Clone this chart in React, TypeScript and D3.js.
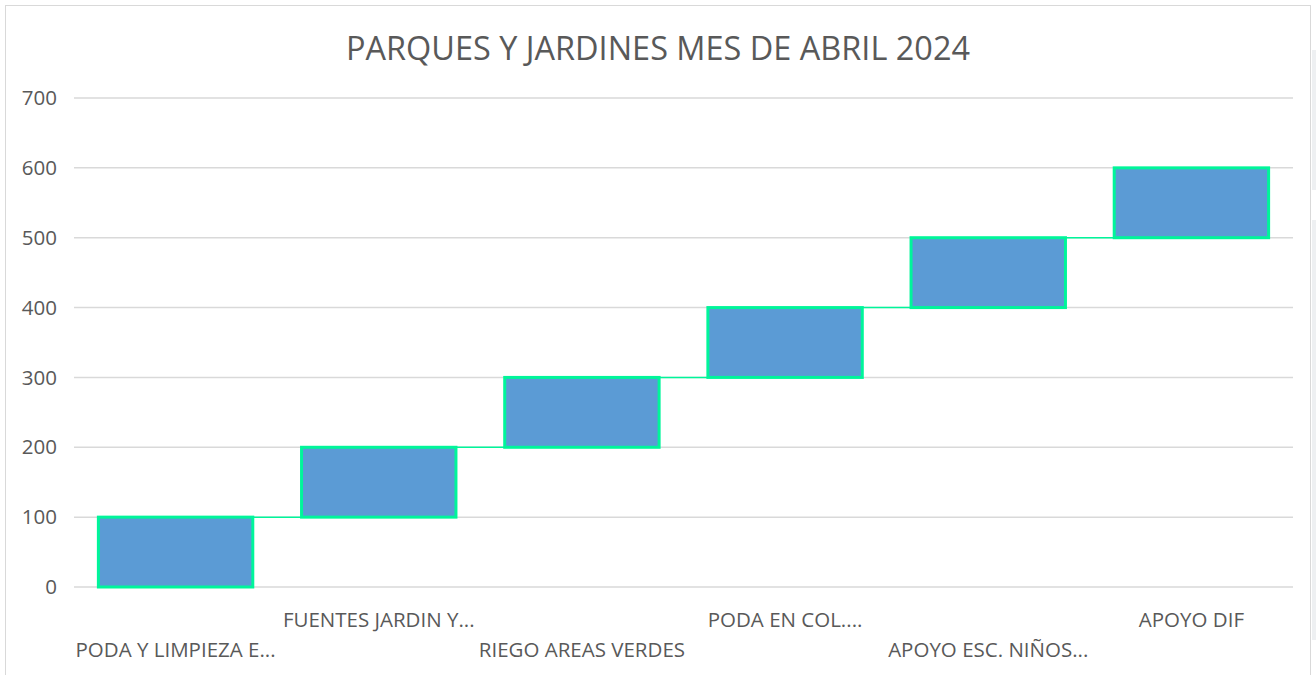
import React from "react";
import * as d3 from "d3";

const categories = [
  "PODA Y LIMPIEZA E...",
  "FUENTES JARDIN Y...",
  "RIEGO AREAS VERDES",
  "PODA EN COL....",
  "APOYO ESC. NIÑOS...",
  "APOYO DIF",
];
const values = [100, 100, 100, 100, 100, 100];
const yTicks = [0, 100, 200, 300, 400, 500, 600, 700];
const title = "PARQUES Y JARDINES MES DE ABRIL 2024";

const W = 1316;
const H = 675;
const FONT = "'Open Sans', 'Liberation Sans', sans-serif";

export default function App() {
  const left = 74, right = 1293, top = 98, bottom = 587;
  const x = d3.scaleBand<string>().domain(categories).range([left, right]).paddingInner(0.24).paddingOuter(0.12);
  const y = d3.scaleLinear().domain([0, 700]).range([bottom, top]);

  let cum = 0;
  const bars = values.map((v, i) => {
    const start = cum;
    cum += v;
    return { cat: categories[i], start, end: cum };
  });

  return (
    <svg width={W} height={H} style={{ position: "absolute", left: 0, top: 0, display: "block" }} fontFamily={FONT}>
      <rect x={0} y={0} width={W} height={H} fill="#fff" />
      <rect x={5.5} y={5.5} width={1305} height={680} fill="#fff" stroke="#d9d9d9" strokeWidth={1} />
      <rect x={1312} y={50} width={4} height={140} fill="#eef0f2" />
      <rect x={1312} y={220} width={4} height={420} fill="#eef0f2" />
      <text x={658} y={60} textAnchor="middle" fontSize={32} fill="#595959" textLength={624} lengthAdjust="spacingAndGlyphs">{title}</text>
      {yTicks.map((t) => (
        <g key={t}>
          <line x1={left} x2={right} y1={y(t)} y2={y(t)} stroke="#d9d9d9" strokeWidth={1.5} />
          <text x={57} y={y(t)} dy="0.35em" textAnchor="end" fontSize={20.5} fill="#595959">{t}</text>
        </g>
      ))}
      {bars.slice(0, -1).map((b, i) => (
        <line key={"c" + i}
          x1={(x(b.cat) as number) + x.bandwidth()}
          x2={x(bars[i + 1].cat) as number}
          y1={y(b.end)} y2={y(b.end)}
          stroke="#00f59a" strokeWidth={1.5} />
      ))}
      {bars.map((b) => (
        <rect key={b.cat}
          x={x(b.cat) as number}
          y={y(b.end)}
          width={x.bandwidth()}
          height={y(b.start) - y(b.end)}
          fill="#5b9bd5" stroke="#00f59a" strokeWidth={3} />
      ))}
      {categories.map((c, i) => (
        <text key={c}
          x={(x(c) as number) + x.bandwidth() / 2}
          y={i % 2 === 0 ? 650 : 620}
          dy="0.35em"
          textAnchor="middle" fontSize={20.5} fill="#595959">{c}</text>
      ))}
    </svg>
  );
}
